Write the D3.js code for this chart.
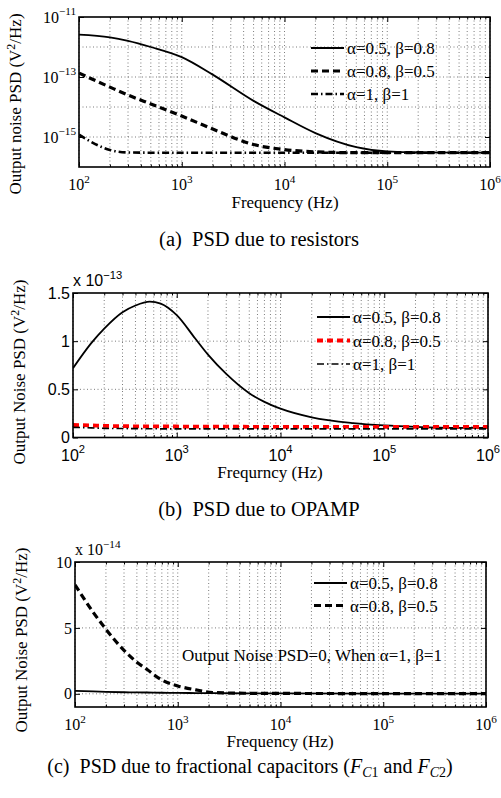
<!DOCTYPE html>
<meta charset="utf-8">
<style>
  body { margin: 0; background: #fff; }
  .grid line { stroke: #444; stroke-width: 0.7px; stroke-dasharray: 1,2.5; }
  .frame { fill: none; stroke: #000; stroke-width: 1.6px; }
  .ax path { display: none; }
  .ax line { stroke: #000; stroke-width: 1px; }
</style>
<body>
<script src="https://d3js.org/d3.v7.min.js"></script>
<script>

var SERIF = "Liberation Serif, Times New Roman, serif";
var SANS = "Liberation Sans, Arial, sans-serif";

// ---- data ----
// (a) PSD due to resistors, V^2/Hz
var freqA = [100, 200, 300, 500, 1000, 2000, 5000, 1e4, 2e4, 5e4, 1e5, 2e5, 1e6];
var resA1 = [2.6e-12, 2.1e-12, 1.6e-12, 1.0e-12, 4.6e-13, 1.2e-13, 1.6e-14, 4.5e-15, 1.35e-15, 4.6e-16, 3.3e-16, 3.05e-16, 3.0e-16];
var resA2 = [1.35e-13, 4.6e-14, 2.5e-14, 1.26e-14, 5.0e-15, 1.85e-15, 5.6e-16, 3.8e-16, 3.2e-16, 3.0e-16, 3.0e-16, 3.0e-16, 3.0e-16];
var resA3 = [1.2e-15, 3.7e-16, 3.05e-16, 3.0e-16, 3.0e-16, 3.0e-16, 3.0e-16, 3.0e-16, 3.0e-16, 3.0e-16, 3.0e-16, 3.0e-16, 3.0e-16];

// (b) PSD due to OPAMP, x 1e-13
var freqB = [100, 150, 200, 300, 400, 550, 700, 1000, 1500, 2000, 3000, 5000, 7000, 1e4, 2e4, 5e4, 1e5, 2e5, 5e5, 1e6];
var opB1 = [0.72, 0.98, 1.13, 1.30, 1.37, 1.41, 1.39, 1.27, 1.03, 0.86, 0.66, 0.46, 0.37, 0.30, 0.21, 0.15, 0.125, 0.11, 0.10, 0.10];
var opB2 = [0.13, 0.125, 0.12, 0.118, 0.116, 0.115, 0.115, 0.114, 0.113, 0.112, 0.112, 0.111, 0.11, 0.11, 0.11, 0.11, 0.11, 0.11, 0.11, 0.11];
var opB3 = [0.105, 0.10, 0.095, 0.093, 0.092, 0.091, 0.09, 0.09, 0.09, 0.09, 0.09, 0.09, 0.09, 0.09, 0.09, 0.09, 0.09, 0.09, 0.09, 0.09];

// (c) PSD due to fractional capacitors, x 1e-14
var freqC = [100, 150, 200, 300, 400, 500, 700, 1000, 1500, 2200, 5000, 1e4, 1e5, 1e6];
var capC1 = [0.22, 0.18, 0.15, 0.12, 0.11, 0.1, 0.08, 0.07, 0.06, 0.05, 0.04, 0.03, 0.02, 0.02];
var capC2 = [8.27, 6.2, 4.9, 3.3, 2.4, 1.86, 1.05, 0.6, 0.3, 0.1, 0.04, 0.03, 0.02, 0.02];

var legendA = ["α=0.5, β=0.8", "α=0.8, β=0.5", "α=1, β=1"];
var legendC = ["α=0.5, β=0.8", "α=0.8, β=0.5"];

var W = 501, H = 798;
var svg = d3.select("body").append("svg")
    .attr("width", W).attr("height", H)
    .attr("font-family", SERIF);

var clipN = 0;

function supLabel(sel, base, exp, size, supSize) {
  sel.text(null);
  sel.append("tspan").text(base);
  sel.append("tspan").attr("dy", -size * 0.45).attr("font-size", supSize).text(exp);
}

function panel(cfg) {
  var g = svg.append("g");
  var x = d3.scaleLog().domain([1e2, 1e6]).range([cfg.left, cfg.right]);
  var y = (cfg.log ? d3.scaleLog() : d3.scaleLinear())
      .domain(cfg.yDomain).range([cfg.bottom, cfg.top]);

  var decades = [1e2, 1e3, 1e4, 1e5, 1e6];
  var minors = x.ticks().filter(function(v) { return decades.indexOf(v) < 0; });

  // grid
  var grid = g.append("g").attr("class", "grid");
  grid.selectAll(".gx").data(x.ticks()).enter().append("line")
      .attr("x1", function(d) { return x(d); }).attr("x2", function(d) { return x(d); })
      .attr("y1", cfg.top).attr("y2", cfg.bottom);
  grid.selectAll(".gy").data(cfg.yGrid).enter().append("line")
      .attr("x1", cfg.left).attr("x2", cfg.right)
      .attr("y1", function(d) { return y(d); }).attr("y2", function(d) { return y(d); });

  // ticks inward on all four sides
  var bh = cfg.bottom, tp = cfg.top;
  g.append("g").attr("class", "ax").attr("transform", "translate(0," + bh + ")")
      .call(d3.axisBottom(x).tickValues(decades).tickSize(-5).tickFormat(""));
  g.append("g").attr("class", "ax").attr("transform", "translate(0," + bh + ")")
      .call(d3.axisBottom(x).tickValues(minors).tickSize(-2.5).tickFormat(""));
  g.append("g").attr("class", "ax").attr("transform", "translate(0," + tp + ")")
      .call(d3.axisTop(x).tickValues(decades).tickSize(-5).tickFormat(""));
  g.append("g").attr("class", "ax").attr("transform", "translate(0," + tp + ")")
      .call(d3.axisTop(x).tickValues(minors).tickSize(-2.5).tickFormat(""));
  g.append("g").attr("class", "ax").attr("transform", "translate(" + cfg.left + ",0)")
      .call(d3.axisLeft(y).tickValues(cfg.yTicks).tickSize(-5).tickFormat(""));
  g.append("g").attr("class", "ax").attr("transform", "translate(" + cfg.right + ",0)")
      .call(d3.axisRight(y).tickValues(cfg.yTicks).tickSize(-5).tickFormat(""));

  // x tick labels 10^n
  g.selectAll(".xl").data(decades).enter().append("text")
      .attr("x", function(d) { return x(d); })
      .attr("y", bh + cfg.xLabY)
      .attr("text-anchor", "middle")
      .attr("font-family", cfg.tickFont)
      .attr("font-size", cfg.tickSize)
      .each(function(d) {
        supLabel(d3.select(this), "10", String(Math.round(Math.log10(d))), cfg.tickSize, cfg.tickSize * 0.7);
      });

  // y tick labels
  g.selectAll(".yl").data(cfg.yTicks).enter().append("text")
      .attr("x", cfg.left - cfg.yLabGap)
      .attr("y", function(d) { return y(d) + cfg.tickSize * 0.35; })
      .attr("text-anchor", "end")
      .attr("font-family", cfg.tickFont)
      .attr("font-size", cfg.tickSize)
      .each(function(d) {
        if (cfg.log) {
          supLabel(d3.select(this), "10", "\u2212" + Math.round(-Math.log10(d)), cfg.tickSize, cfg.tickSize * 0.7);
        } else {
          d3.select(this).text(String(d));
        }
      });

  if (cfg.expo) {
    var ex = g.append("text").attr("x", cfg.left).attr("y", cfg.top - 7)
        .attr("font-family", cfg.tickFont).attr("font-size", cfg.tickSize);
    supLabel(ex, "x 10", cfg.expo, cfg.tickSize, cfg.tickSize * 0.7);
  }

  // axis titles
  g.append("text").attr("x", cfg.xTitleX).attr("y", bh + cfg.xTitleY)
      .attr("text-anchor", "middle").attr("font-size", 17).text(cfg.xTitle);
  var yt = g.append("text")
      .attr("transform", "translate(" + cfg.yTitleX + "," + cfg.yTitleY + ") rotate(-90)")
      .attr("text-anchor", "middle").attr("font-size", 17);
  yt.append("tspan").text(cfg.yTitle + " (V");
  yt.append("tspan").attr("dy", -6).attr("font-size", 12).text("2");
  yt.append("tspan").attr("dy", 6).text("/Hz)");

  // curves
  var id = "clip" + (clipN++);
  svg.append("clipPath").attr("id", id).append("rect")
      .attr("x", cfg.left).attr("y", cfg.top)
      .attr("width", cfg.right - cfg.left).attr("height", cfg.bottom - cfg.top);
  var cg = g.append("g").attr("clip-path", "url(#" + id + ")");
  cfg.series.forEach(function(s) {
    var line = d3.line().curve(d3.curveMonotoneX)
        .x(function(d, i) { return x(cfg.freq[i]); })
        .y(function(d) { return y(d); });
    cg.append("path").datum(s.values)
        .attr("d", line)
        .attr("fill", "none")
        .attr("stroke", s.color)
        .attr("stroke-width", s.width)
        .attr("stroke-dasharray", s.dash);
  });

  // legend
  cfg.legend.forEach(function(lab, i) {
    var s = cfg.series[i];
    var ly = cfg.legY + i * cfg.legStep;
    g.append("line").attr("x1", cfg.legX).attr("x2", cfg.legX + 33)
        .attr("y1", ly).attr("y2", ly)
        .attr("stroke", s.color).attr("stroke-width", s.width)
        .attr("stroke-dasharray", s.dash);
    g.append("text").attr("x", cfg.legX + 36).attr("y", ly + 6)
        .attr("font-size", 17).text(lab);
  });

  g.append("rect").attr("class", "frame")
      .attr("x", cfg.left).attr("y", cfg.top)
      .attr("width", cfg.right - cfg.left).attr("height", cfg.bottom - cfg.top);

  return { x: x, y: y, g: g };
}

var solid = "none", dashed = "7,4", dashdot = "7,3,1.5,3";

panel({
  left: 79, right: 490, top: 17, bottom: 167,
  log: true, yDomain: [1e-16, 1e-11],
  yTicks: [1e-15, 1e-13, 1e-11],
  yGrid: [1e-15, 1e-14, 1e-13, 1e-12],
  tickFont: SERIF, tickSize: 16, yLabGap: 3,
  xLabY: 23, xTitle: "Frequency (Hz)", xTitleX: 285, xTitleY: 40.5,
  yTitle: "Output noise PSD", yTitleX: 21, yTitleY: 104,
  freq: freqA,
  series: [
    { values: resA1, color: "#000", width: 1.8, dash: solid },
    { values: resA2, color: "#000", width: 3.2, dash: dashed },
    { values: resA3, color: "#000", width: 2.6, dash: dashdot }
  ],
  legend: legendA, legX: 311, legY: 48, legStep: 23
});

panel({
  left: 73, right: 488, top: 293, bottom: 437.5,
  log: false, yDomain: [0, 1.5],
  yTicks: [0, 0.5, 1, 1.5],
  yGrid: [0.5, 1],
  tickFont: SANS, tickSize: 16, yLabGap: 3, expo: "\u221213",
  xLabY: 23, xTitle: "Frequrncy (Hz)", xTitleX: 270, xTitleY: 40,
  yTitle: "Output Noise PSD", yTitleX: 25, yTitleY: 372,
  freq: freqB,
  series: [
    { values: opB1, color: "#000", width: 1.8, dash: solid },
    { values: opB2, color: "#ff0000", width: 3.8, dash: "6,4" },
    { values: opB3, color: "#000", width: 1.6, dash: dashdot }
  ],
  legend: legendA, legX: 317, legY: 317, legStep: 23.5
});

var pc = panel({
  left: 75, right: 486, top: 562, bottom: 707,
  log: false, yDomain: [-1, 10],
  yTicks: [0, 5, 10],
  yGrid: [0, 5],
  tickFont: SERIF, tickSize: 16, yLabGap: 3, expo: "\u221214",
  xLabY: 23, xTitle: "Frequency (Hz)", xTitleX: 280, xTitleY: 40,
  yTitle: "Output Noise PSD", yTitleX: 27, yTitleY: 640,
  freq: freqC,
  series: [
    { values: capC1, color: "#000", width: 1.8, dash: solid },
    { values: capC2, color: "#000", width: 3.2, dash: dashed }
  ],
  legend: legendC, legX: 314, legY: 583, legStep: 22.5
});

pc.g.append("text").attr("x", 312).attr("y", 661)
    .attr("text-anchor", "middle").attr("font-size", 17)
    .text("Output Noise PSD=0, When α=1, β=1");

// captions
svg.append("text").attr("x", 259).attr("y", 246).attr("text-anchor", "middle")
    .attr("font-size", 20.5).attr("xml:space", "preserve").text("(a)  PSD due to resistors");
svg.append("text").attr("x", 259).attr("y", 516).attr("text-anchor", "middle")
    .attr("font-size", 20.5).attr("xml:space", "preserve").text("(b)  PSD due to OPAMP");
var cap = svg.append("text").attr("x", 250).attr("y", 773).attr("text-anchor", "middle")
    .attr("font-size", 20).attr("xml:space", "preserve");
cap.append("tspan").text("(c)  PSD due to fractional capacitors (");
cap.append("tspan").attr("font-style", "italic").text("F");
cap.append("tspan").attr("font-style", "italic").attr("font-size", 14).attr("dy", 4).text("C");
cap.append("tspan").attr("font-size", 14).text("1");
cap.append("tspan").attr("dy", -4).text(" and ");
cap.append("tspan").attr("font-style", "italic").text("F");
cap.append("tspan").attr("font-style", "italic").attr("font-size", 14).attr("dy", 4).text("C");
cap.append("tspan").attr("font-size", 14).text("2");
cap.append("tspan").attr("dy", -4).text(")");

</script>
</body>
